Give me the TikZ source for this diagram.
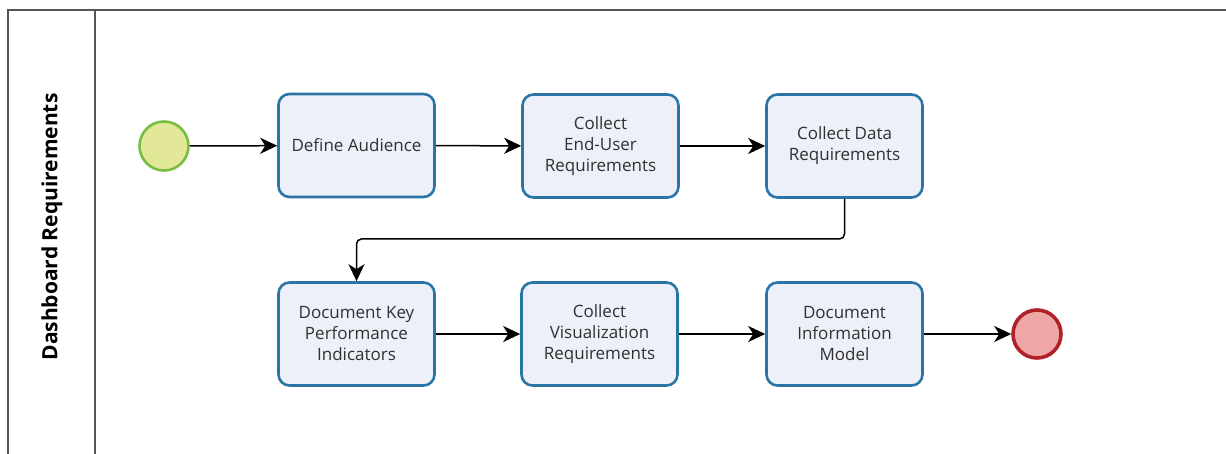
\documentclass[tikz,border=0pt]{standalone}
\usepackage{fontspec}
\setmainfont{Open Sans}
\usetikzlibrary{arrows.meta}
\definecolor{taskfill}{HTML}{EDF0F8}
\definecolor{taskdraw}{HTML}{2A74A6}
\definecolor{startfill}{HTML}{E2E898}
\definecolor{startdraw}{HTML}{77BD3F}
\definecolor{endfill}{HTML}{EFA6A6}
\definecolor{enddraw}{HTML}{B0222A}
\definecolor{pool}{HTML}{555555}
\definecolor{txt}{HTML}{303030}
\tikzset{
  taskbox/.style={rectangle, rounded corners=11pt, draw=taskdraw, fill=taskfill,
    line width=2.6pt, minimum width=156pt, minimum height=103pt, align=center,
    text=txt, font=\fontsize{17}{21}\selectfont, inner sep=2pt},
  startev/.style={circle, draw=startdraw, fill=startfill, line width=2.6pt, minimum size=49pt, inner sep=0pt},
  endev/.style={circle, draw=enddraw, fill=endfill, line width=3.6pt, minimum size=48pt, inner sep=0pt},
  flow/.style={draw=black, line width=1.5pt, -{Stealth[length=17pt,width=16pt,inset=5pt]}},
  poolline/.style={draw=pool, line width=1.8pt}
}
\begin{document}
\begin{tikzpicture}[x=1pt,y=-1pt]
\useasboundingbox (0,0) rectangle (1226,454);
% pool
\coordinate (ptl) at (8,10);
\coordinate (ptr) at (1226,10);
\coordinate (pbl) at (8,456);
\coordinate (stop) at (95,10);
\coordinate (sbot) at (95,456);
\draw[poolline] (pbl) -- (ptl) -- (ptr);
\draw[poolline] (stop) -- (sbot);
\node[rotate=90, font=\fontsize{21}{24}\selectfont\bfseries, text=black] (lane) at (52,227) {Dashboard Requirements};
% events and tasks
\node[startev] (start) at (164,146) {};
\node[taskbox] (t1) at (356.5,145.5) {Define Audience};
\node[taskbox] (t2) at (600.5,146) {Collect\\End-User\\Requirements};
\node[taskbox] (t3) at (844.5,146) {Collect Data\\Requirements};
\node[taskbox] (t4) at (356.5,334) {Document Key\\Performance\\Indicators};
\node[taskbox] (t5) at (599.5,334) {Collect\\Visualization\\Requirements};
\node[taskbox] (t6) at (844.5,334) {Document\\Information\\Model};
\node[endev] (end) at (1037,334) {};
\coordinate (bend) at (600,239);
% flows
\draw[flow] (start) -- (t1);
\draw[flow] (t1) -- (t2);
\draw[flow] (t2) -- (t3);
\draw[flow, rounded corners=5pt] (t3.south) |- (bend) -| (t4.north);
\draw[flow] (t4) -- (t5);
\draw[flow] (t5) -- (t6);
\draw[flow] (t6) -- (end);
\end{tikzpicture}
\end{document}
